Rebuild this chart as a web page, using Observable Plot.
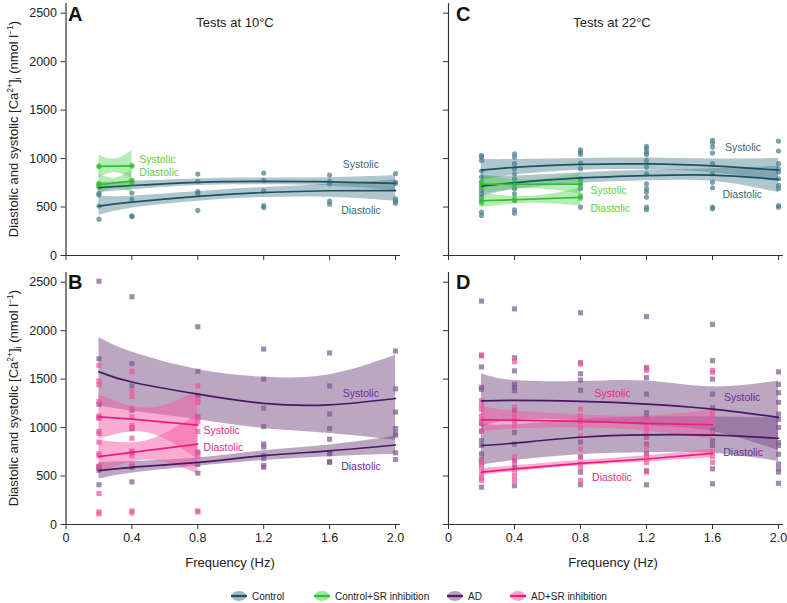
<!DOCTYPE html>
<html><head><meta charset="utf-8">
<script src="https://cdn.jsdelivr.net/npm/d3@7"></script>
<script src="https://cdn.jsdelivr.net/npm/@observablehq/plot@0.6"></script>
<style>
body{margin:0;background:#fff;font-family:"Liberation Sans",Arial,sans-serif;}
#wrap{position:relative;width:787px;height:603px;overflow:hidden;}
.abs{position:absolute;}
.letter{font-weight:bold;font-size:20px;color:#111;}
.title{font-size:13px;color:#222;transform:translateX(-50%);white-space:nowrap;}
.xlab{font-size:13px;color:#222;transform:translateX(-50%);white-space:nowrap;}
.ylab{font-size:13px;color:#222;white-space:nowrap;transform:translate(-50%,-50%) rotate(-90deg);}
.leg{font-size:10px;color:#222;display:flex;align-items:center;white-space:nowrap;}
svg{overflow:visible}
</style></head><body>
<div id="wrap"></div>
<script>
// ---------- data ----------
const freqs = [0.2, 0.4, 0.8, 1.2, 1.6, 2.0];
const xTicks = [0, 0.4, 0.8, 1.2, 1.6, 2.0];
const yTicks = [0, 500, 1000, 1500, 2000, 2500];
const groups = ["Control", "Control+SR inhibition", "AD", "AD+SR inhibition"];

// Panel A: Control, 10°C
const ctrl10SysMean = [700, 722, 755, 765, 760, 745];
const ctrl10SysLo   = [648, 678, 722, 730, 718, 668];
const ctrl10SysHi   = [752, 766, 790, 800, 802, 825];
const ctrl10DiaMean = [510, 550, 610, 650, 668, 670];
const ctrl10DiaLo   = [415, 488, 560, 598, 600, 560];
const ctrl10DiaHi   = [612, 612, 660, 702, 736, 780];
const ctrl10Pts = [[735, 705, 640, 625, 510, 375],[770, 760, 645, 580, 410, 400],[840, 765, 660, 640, 465],[850, 775, 665, 515, 495],[830, 765, 740, 560, 530],[845, 755, 745, 585, 560, 540]];
// Control+SR inhibition, 10°C
const sr10Freqs = [0.2, 0.4];
const sr10SysMean = [920, 925];
const sr10DiaMean = [730, 768];
const sr10BandFreqs = [0.2, 0.3, 0.4];
const sr10SysLo = [800, 855, 790];
const sr10SysHi = [1035, 995, 1080];
const sr10DiaLo = [630, 690, 650];
const sr10DiaHi = [835, 800, 885];
const sr10Pts = [[925, 915, 745, 735, 715],[930, 920, 775, 760, 750]];

// Panel C: Control, 22°C
const ctrl22SysMean = [880, 910, 940, 945, 925, 880];
const ctrl22SysLo   = [770, 830, 880, 885, 855, 760];
const ctrl22SysHi   = [990, 990, 1000, 1005, 995, 1000];
const ctrl22DiaMean = [715, 750, 800, 825, 830, 785];
const ctrl22DiaLo   = [610, 680, 745, 770, 765, 650];
const ctrl22DiaHi   = [820, 820, 855, 880, 895, 920];
const ctrl22Pts = [[1033, 1016, 981, 871, 809, 757, 706, 671, 637, 603, 557, 448, 413],[1050, 1016, 947, 895, 843, 792, 740, 689, 637, 568, 472, 437],[1091, 1067, 1043, 954, 895, 792, 740, 689, 603, 499],[1126, 1101, 1067, 1043, 981, 912, 843, 740, 689, 654, 603, 499, 472],[1188, 1160, 1119, 1057, 947, 843, 757, 699, 499, 482],[1181, 1078, 947, 895, 861, 792, 723, 689, 516, 499]];
// Control+SR inhibition, 22°C
const sr22Freqs = [0.2, 0.4, 0.8];
const sr22SysMean = [735, 735, 737];
const sr22DiaMean = [565, 575, 600];
const sr22BandFreqs = [0.2, 0.5, 0.8];
const sr22SysLo = [640, 690, 635];
const sr22SysHi = [830, 780, 845];
const sr22DiaLo = [495, 540, 510];
const sr22DiaHi = [640, 610, 695];
const sr22Pts = [[760, 740, 700, 580, 560, 540],[750, 720, 590, 570],[760, 720, 620, 590]];

// Panel B: AD, 10°C
const ad10SysMean = [1575, 1470, 1345, 1250, 1235, 1300];
const ad10SysLo   = [1225, 1170, 1080, 990, 940, 870];
const ad10SysHi   = [1930, 1780, 1600, 1520, 1545, 1745];
const ad10DiaMean = [555, 590, 640, 710, 760, 820];
const ad10DiaLo   = [470, 530, 600, 660, 700, 725];
const ad10DiaHi   = [640, 650, 685, 760, 820, 910];
const ad10Pts = [[2510, 1710, 1240, 1100, 600, 585, 560, 410],[2350, 1660, 1430, 1180, 990, 740, 600, 590, 440],[2040, 1580, 1330, 1110, 740, 620, 530],[1810, 1500, 1200, 1010, 830, 800, 710, 680, 610, 590],[1770, 1430, 1140, 990, 880, 740, 730, 650, 640],[1790, 1400, 1160, 990, 940, 920, 740, 670]];
// AD+SR inhibition, 10°C
const adsr10Freqs = [0.2, 0.4, 0.8];
const adsr10SysMean = [1110, 1087, 1026];
const adsr10DiaMean = [700, 744, 830];
const adsr10BandFreqs = [0.2, 0.5, 0.8];
const adsr10SysLo = [880, 945, 672];
const adsr10SysHi = [1345, 1200, 1380];
const adsr10DiaLo = [530, 665, 520];
const adsr10DiaHi = [870, 870, 1140];
const adsr10Pts = [[1640, 1480, 1440, 1270, 1120, 1100, 960, 940, 850, 730, 710, 600, 320, 130, 110],[1580, 1370, 1320, 1200, 1110, 1020, 1000, 890, 760, 710, 620, 140, 120],[1430, 1290, 1260, 1100, 1060, 960, 750, 700, 140, 130]];

// Panel D: AD, 22°C
const ad22SysMean = [1275, 1280, 1270, 1242, 1190, 1105];
const ad22SysLo   = [1000, 1080, 1070, 1020, 960, 760];
const ad22SysHi   = [1555, 1485, 1475, 1480, 1420, 1480];
const ad22DiaMean = [815, 840, 900, 925, 922, 890];
const ad22DiaLo   = [610, 660, 720, 740, 735, 650];
const ad22DiaHi   = [1030, 1030, 1080, 1110, 1110, 1100];
const ad22Pts = [[2305, 1740, 1625, 1415, 1395, 1040, 965, 865, 815, 730, 675, 640, 385],[2225, 1720, 1585, 1445, 1415, 1380, 1175, 950, 830, 660, 590, 400],[2185, 1670, 1555, 1490, 1385, 1070, 850, 695, 540, 410],[2145, 1620, 1515, 1345, 1155, 1105, 900, 830, 735, 555, 410],[2065, 1690, 1500, 1345, 1205, 970, 865, 815, 575, 420],[1575, 1445, 1360, 1260, 1140, 1085, 1000, 845, 815, 725, 625, 575, 540, 425]];
// AD+SR inhibition, 22°C
const adsr22Freqs = [0.2, 0.4, 0.8, 1.2, 1.6];
const adsr22SysMean = [1080, 1077, 1063, 1043, 1029];
const adsr22SysLo   = [950, 985, 995, 965, 880];
const adsr22SysHi   = [1215, 1170, 1130, 1120, 1180];
const adsr22DiaMean = [540, 573, 631, 676, 734];
const adsr22DiaLo   = [505, 545, 605, 645, 690];
const adsr22DiaHi   = [580, 605, 660, 710, 780];
const adsr22Pts = [[1750, 1280, 1230, 1190, 1120, 1080, 1050, 960, 660, 620, 575, 520, 480, 455],[1680, 1210, 1140, 1100, 1070, 1020, 700, 640, 560, 505, 455],[1655, 1190, 1120, 1060, 1000, 915, 780, 700, 625, 580, 455],[1610, 1590, 1090, 1000, 960, 900, 800, 710, 640, 540],[1590, 1570, 1160, 1110, 1040, 950, 750, 700, 640]];

// curve labels: [text, freq, value, group]
const labelsA = [["Systolic", 0.445, 992, 1], ["Diastolic", 0.445, 857, 1], ["Systolic", 1.68, 940, 0], ["Diastolic", 1.67, 465, 0]];
const labelsC = [["Systolic", 1.675, 1116, 0], ["Diastolic", 1.66, 630, 0], ["Systolic", 0.86, 671, 1], ["Diastolic", 0.86, 486, 1]];
const labelsB = [["Systolic", 1.68, 1348, 2], ["Diastolic", 1.67, 597, 2], ["Systolic", 0.835, 967, 3], ["Diastolic", 0.835, 792, 3]];
const labelsD = [["Systolic", 1.67, 1307, 2], ["Diastolic", 1.665, 741, 2], ["Systolic", 0.885, 1348, 3], ["Diastolic", 0.87, 484, 3]];

// ---------- styles ----------
const lineColor = ["#1b5264", "#2dc22d", "#4a1862", "#ee1a85"];
const bandColor = ["#4d808f", "#4fd04f", "#7a5088", "#f65aa3"];
const bandOpacity = [0.45, 0.42, 0.5, 0.5];
const ptColor = ["#4a7e8c", "#48c848", "#7f5b8c", "#f2559e"];
const textColor = ["#3a6776", "#5dd03a", "#6c2a95", "#e32b8c"];
const FONT = "Liberation Sans, Arial, sans-serif";

function line(xs, ys){ return xs.map((x,i)=>({x, y: ys[i]})); }
function band(xs, lo, hi){ return xs.map((x,i)=>({x, lo: lo[i], hi: hi[i]})); }
function pts(xs, arr){ return arr.flatMap((vals,i)=>vals.map(v=>({x: xs[i], y: v}))); }

function panel(o){
  const marks = [];
  for (const b of o.bands) marks.push(Plot.areaY(b.data, {x:"x", y1:"lo", y2:"hi", fill: bandColor[b.g], fillOpacity: bandOpacity[b.g], curve:"natural"}));
  for (const p of o.points) marks.push(Plot.dot(p.data, {x:"x", y:"y", fill: ptColor[p.g], fillOpacity: 0.72, r: p.g >= 2 ? 2.9 : 2.6, symbol: p.g >= 2 ? "square" : "circle"}));
  for (const l of o.lines) marks.push(Plot.line(l.data, {x:"x", y:"y", stroke: lineColor[l.g], strokeWidth: 1.7, curve: l.curve || "natural"}));
  for (const l of o.lines) if (l.dots) marks.push(Plot.dot(l.data, {x:"x", y:"y", fill: lineColor[l.g], r: 1.7}));
  marks.push(Plot.text(o.labels.map(d=>({t:d[0], x:d[1], y:d[2], g:d[3]})), {x:"x", y:"y", text:"t", fill: d=>textColor[d.g], textAnchor:"start", fontSize: 10.5, fontFamily: FONT}));
  marks.push(Plot.ruleX([0], {y1: 0, y2: 2600, stroke:"#333", strokeWidth: 1.2}));
  marks.push(Plot.ruleY([0], {x1: -0.015, x2: 2.03, stroke:"#333", strokeWidth: 1.2}));
  marks.push(Plot.axisY({ticks: yTicks, tickSize: 5, stroke:"#333", tickFormat: o.yLabels ? (d=>String(d)) : (()=>""), fontSize: 12.5, fill:"#222", label: null, tickPadding: 4}));
  marks.push(Plot.axisX({ticks: xTicks, tickSize: 5, stroke:"#333", tickFormat: o.xLabels ? (d=> d===0 ? "0" : d.toFixed(1)) : (()=>""), fontSize: 12.5, fill:"#222", label: null, tickPadding: 4}));
  const svg = Plot.plot({
    width: o.width, height: o.height,
    marginLeft: o.ml, marginRight: o.mr, marginTop: o.mt, marginBottom: o.mb,
    x: {domain: [0, 2.0]},
    y: {domain: [0, 2600]},
    style: {fontFamily: FONT, background: "transparent", overflow: "visible"},
    marks
  });
  svg.style.position = "absolute";
  svg.style.left = o.left + "px";
  svg.style.top = o.top + "px";
  return svg;
}

const wrap = document.getElementById("wrap");
const L = {left: 0, width: 400, ml: 65.5, mr: 5};
const R = {left: 390, width: 397, ml: 58, mr: 9};
const T = {top: 0, height: 262, mt: 3, mb: 7};
const B = {top: 262, height: 286, mt: 10, mb: 24};

wrap.appendChild(panel({...L, ...T, xLabels:false, yLabels:true, labels: labelsA,
  bands: [{g:0, data: band(freqs, ctrl10SysLo, ctrl10SysHi)}, {g:0, data: band(freqs, ctrl10DiaLo, ctrl10DiaHi)},
          {g:1, data: band(sr10BandFreqs, sr10SysLo, sr10SysHi)}, {g:1, data: band(sr10BandFreqs, sr10DiaLo, sr10DiaHi)}],
  points: [{g:0, data: pts(freqs, ctrl10Pts)}, {g:1, data: pts(sr10Freqs, sr10Pts)}],
  lines: [{g:0, data: line(freqs, ctrl10SysMean)}, {g:0, data: line(freqs, ctrl10DiaMean)},
          {g:1, data: line(sr10Freqs, sr10SysMean), curve:"linear", dots:true}, {g:1, data: line(sr10Freqs, sr10DiaMean), curve:"linear", dots:true}]
}));
wrap.appendChild(panel({...R, ...T, xLabels:false, yLabels:false, labels: labelsC,
  bands: [{g:0, data: band(freqs, ctrl22SysLo, ctrl22SysHi)}, {g:0, data: band(freqs, ctrl22DiaLo, ctrl22DiaHi)},
          {g:1, data: band(sr22BandFreqs, sr22SysLo, sr22SysHi)}, {g:1, data: band(sr22BandFreqs, sr22DiaLo, sr22DiaHi)}],
  points: [{g:0, data: pts(freqs, ctrl22Pts)}, {g:1, data: pts(sr22Freqs, sr22Pts)}],
  lines: [{g:0, data: line(freqs, ctrl22SysMean)}, {g:0, data: line(freqs, ctrl22DiaMean)},
          {g:1, data: line(sr22Freqs, sr22SysMean), curve:"linear", dots:true}, {g:1, data: line(sr22Freqs, sr22DiaMean), curve:"linear", dots:true}]
}));
wrap.appendChild(panel({...L, ...B, xLabels:true, yLabels:true, labels: labelsB,
  bands: [{g:2, data: band(freqs, ad10SysLo, ad10SysHi)}, {g:2, data: band(freqs, ad10DiaLo, ad10DiaHi)},
          {g:3, data: band(adsr10BandFreqs, adsr10SysLo, adsr10SysHi)}, {g:3, data: band(adsr10BandFreqs, adsr10DiaLo, adsr10DiaHi)}],
  points: [{g:2, data: pts(freqs, ad10Pts)}, {g:3, data: pts(adsr10Freqs, adsr10Pts)}],
  lines: [{g:2, data: line(freqs, ad10SysMean)}, {g:2, data: line(freqs, ad10DiaMean)},
          {g:3, data: line(adsr10Freqs, adsr10SysMean), curve:"linear"}, {g:3, data: line(adsr10Freqs, adsr10DiaMean), curve:"linear"}]
}));
wrap.appendChild(panel({...R, ...B, xLabels:true, yLabels:false, labels: labelsD,
  bands: [{g:2, data: band(freqs, ad22SysLo, ad22SysHi)}, {g:2, data: band(freqs, ad22DiaLo, ad22DiaHi)},
          {g:3, data: band(adsr22Freqs, adsr22SysLo, adsr22SysHi)}, {g:3, data: band(adsr22Freqs, adsr22DiaLo, adsr22DiaHi)}],
  points: [{g:2, data: pts(freqs, ad22Pts)}, {g:3, data: pts(adsr22Freqs, adsr22Pts)}],
  lines: [{g:2, data: line(freqs, ad22SysMean)}, {g:2, data: line(freqs, ad22DiaMean)},
          {g:3, data: line(adsr22Freqs, adsr22SysMean), curve:"linear"}, {g:3, data: line(adsr22Freqs, adsr22DiaMean), curve:"linear"}]
}));

function addDiv(cls, html, left, top){
  const d = document.createElement("div");
  d.className = "abs " + cls; d.innerHTML = html;
  d.style.left = left + "px"; d.style.top = top + "px";
  wrap.appendChild(d); return d;
}
addDiv("letter", "A", 68, 3);
addDiv("letter", "C", 456, 3);
addDiv("letter", "B", 68, 271);
addDiv("letter", "D", 456, 271);
addDiv("title", "Tests at 10°C", 235, 15);
addDiv("title", "Tests at 22°C", 612, 15);
addDiv("xlab", "Frequency (Hz)", 230, 555);
addDiv("xlab", "Frequency (Hz)", 613, 555);
const ylab = "Diastolic and systolic [Ca<sup style='font-size:8.5px'>2+</sup>]<sub style='font-size:8.5px'>i</sub> (nmol l<sup style='font-size:8.5px'>−1</sup>)";
addDiv("ylab", ylab, 14, 129);
addDiv("ylab", ylab, 14, 398);

// legend
const legX = [230, 313, 446, 509];
groups.forEach((g, i) => {
  const icon = `<svg width="18" height="12" style="margin-right:4px"><ellipse cx="9" cy="6" rx="7.5" ry="5" fill="${bandColor[i]}" fill-opacity="0.55"/><line x1="1" x2="17" y1="6" y2="6" stroke="${lineColor[i]}" stroke-width="2.2"/></svg>`;
  addDiv("leg", icon + g, legX[i], 590);
});
</script>
</body></html>
